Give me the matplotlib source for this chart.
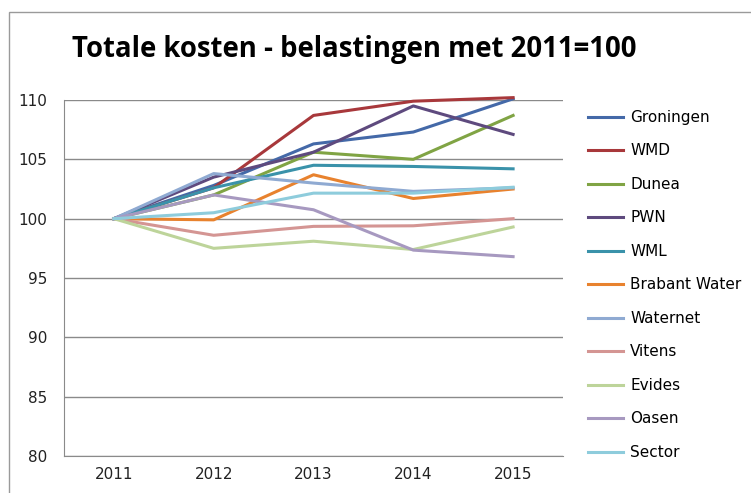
import matplotlib.pyplot as plt
from matplotlib.patches import Rectangle

years = ['2011', '2012', '2013', '2014', '2015']

groningen = [100, 102.8, 106.3, 107.3, 110.1]
wmd = [100, 102.6, 108.7, 109.9, 110.2]
dunea = [100, 102.0, 105.6, 105.0, 108.7]
pwn = [100, 103.5, 105.6, 109.5, 107.1]
wml = [100, 102.6, 104.5, 104.4, 104.2]
brabant = [100, 99.9, 103.7, 101.7, 102.5]
waternet = [100, 103.8, 103.0, 102.3, 102.6]
vitens = [100, 98.6, 99.35, 99.4, 100.0]
evides = [100, 97.5, 98.1, 97.4, 99.3]
oasen = [100, 102.0, 100.75, 97.35, 96.8]
sector = [100, 100.5, 102.15, 102.15, 102.65]

names = ['Groningen', 'WMD', 'Dunea', 'PWN', 'WML', 'Brabant Water',
         'Waternet', 'Vitens', 'Evides', 'Oasen', 'Sector']
series = [groningen, wmd, dunea, pwn, wml, brabant,
          waternet, vitens, evides, oasen, sector]
colors = ['#4469A8', '#A8383B', '#80A444', '#5E4A7E', '#3A92AA', '#E8822E',
          '#8FAAD2', '#D49593', '#BDD49A', '#A799C0', '#8ECCDC']

fig = plt.figure(figsize=(7.51, 4.93), dpi=100)
fig.patches.append(Rectangle((9 / 751, -0.1), 1.0, 1 - 12 / 493 + 0.1,
                             transform=fig.transFigure, fill=False,
                             edgecolor='#9a9a9a', linewidth=1))

ax = fig.add_axes([64 / 751, 37 / 493, 499 / 751, 356 / 493])

x = range(len(years))
for name, vals, c in zip(names, series, colors):
    ax.plot(x, vals, color=c, linewidth=2.2, label=name, clip_on=False)

ax.set_xlim(-0.5, 4.5)
ax.set_ylim(80, 110)
ax.set_yticks([80, 85, 90, 95, 100, 105, 110])
ax.set_xticks(list(x))
ax.set_xticklabels(years)
ax.yaxis.grid(True, color='#8a8a8a', linewidth=1)
ax.set_axisbelow(True)
for s in ['top', 'right']:
    ax.spines[s].set_visible(False)
for s in ['left', 'bottom']:
    ax.spines[s].set_color('#8a8a8a')
ax.tick_params(axis='both', length=0, labelsize=11, colors='#222222', pad=12)
ax.tick_params(axis='x', pad=8)

fig.text(354 / 751, 1 - 49 / 493, 'Totale kosten - belastingen met 2011=100',
         ha='center', va='center', fontsize=19.8, fontweight='bold',
         family='Open Sans')

ax.legend(loc='upper left', bbox_to_anchor=(588 / 751, 1 - 110 / 493),
          bbox_transform=fig.transFigure, frameon=False, fontsize=11,
          handlelength=2.3, handletextpad=0.45, labelspacing=1.21,
          borderaxespad=0, borderpad=0)

fig.savefig('out.png', dpi=100)
